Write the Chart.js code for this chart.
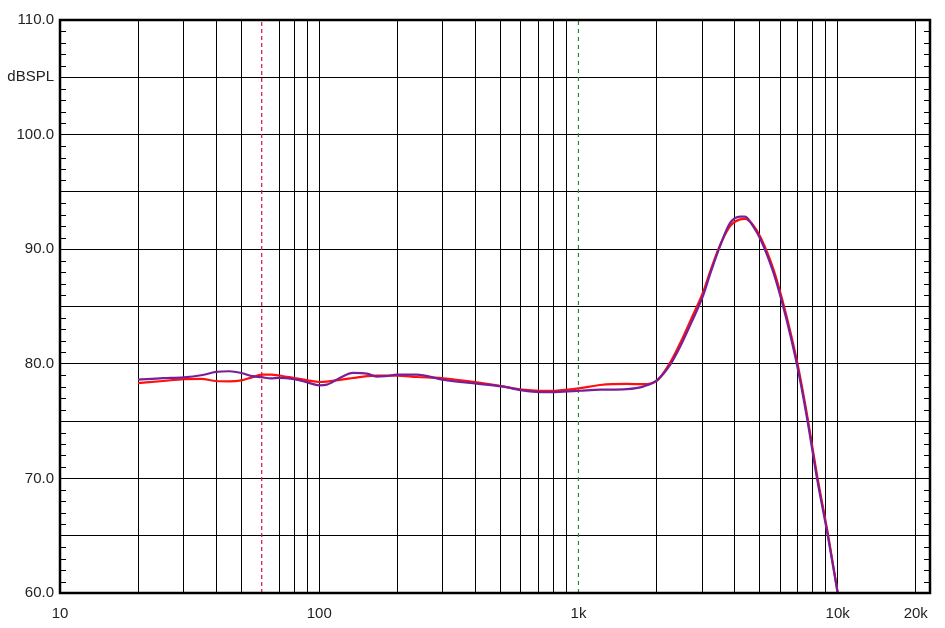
<!DOCTYPE html>
<html>
<head>
<meta charset="utf-8">
<script src="https://cdn.jsdelivr.net/npm/chart.js@4"></script>
<style>
html,body{margin:0;padding:0;background:#fff;}
#wrap{width:945px;height:628px;position:relative;}
</style>
</head>
<body>
<div id="wrap"><canvas id="c"></canvas></div>
<script>
// ---- data ----
const freqs = [20, 25, 30, 35, 40, 45, 50, 55, 60, 65, 70, 80, 90, 100, 107, 120, 135, 153, 166, 180, 200, 237, 300, 405, 508, 607, 709, 813, 911, 1017, 1214, 1536, 1785, 2015, 2270, 2480, 2720, 3020, 3250, 3510, 3840, 4200, 4390, 4720, 5050, 5660, 6110, 6580, 7070, 7650, 8320, 9160, 10000];
const purpleSPL = [78.62, 78.75, 78.82, 79.0, 79.29, 79.35, 79.2, 78.92, 78.83, 78.72, 78.78, 78.66, 78.38, 78.12, 78.18, 78.76, 79.2, 79.15, 78.88, 78.92, 79.05, 79.06, 78.62, 78.27, 78.03, 77.68, 77.53, 77.53, 77.59, 77.65, 77.74, 77.79, 78.03, 78.6, 80.0, 81.6, 83.55, 85.9, 88.1, 90.23, 92.27, 92.85, 92.85, 91.98, 90.8, 87.9, 85.3, 82.4, 79.2, 75.0, 70.0, 65.0, 60.0];
const redSPL = [78.32, 78.5, 78.66, 78.68, 78.5, 78.47, 78.55, 78.82, 79.05, 79.05, 78.98, 78.76, 78.56, 78.41, 78.45, 78.6, 78.76, 78.93, 78.97, 78.97, 78.97, 78.85, 78.74, 78.38, 78.03, 77.74, 77.65, 77.65, 77.74, 77.88, 78.15, 78.24, 78.22, 78.56, 80.2, 81.9, 83.9, 86.2, 88.3, 90.3, 92.0, 92.6, 92.65, 92.1, 91.0, 88.2, 85.6, 82.7, 79.5, 75.3, 70.3, 65.2, 60.0];
const xGridTicks = [10,20,30,40,50,60,70,80,90,100,200,300,400,500,600,700,800,900,1000,2000,3000,4000,5000,6000,7000,8000,9000,10000,20000];
const xTickLabels = {10:'10', 100:'100', 1000:'1k', 10000:'10k', 20000:'20k'};
const dashedMarkers = [60, 1000];
const yMin = 60, yMax = 110, xMin = 10, xMax = 22700;

const toXY = (xs, ys) => xs.map((x, i) => ({x: x, y: ys[i]}));

const frame = {
  id: 'frame',
  afterDraw(chart) {
    const {ctx, chartArea: a, scales} = chart;
    ctx.save();
    ctx.strokeStyle = '#000';
    // minor ticks every 1 dB, inside left & right borders
    ctx.lineWidth = 1;
    for (let v = yMin + 1; v < yMax; v++) {
      if (v % 5 === 0) continue;
      const py = Math.round(scales.y.getPixelForValue(v)) + 0.5;
      ctx.beginPath();
      ctx.moveTo(a.left, py); ctx.lineTo(a.left + 6, py);
      ctx.moveTo(a.right, py); ctx.lineTo(a.right - 6, py);
      ctx.stroke();
    }
    ctx.lineWidth = 2.5;
    ctx.strokeRect(a.left, a.top, a.right - a.left, a.bottom - a.top);
    ctx.restore();
  }
};

new Chart(document.getElementById('c'), {
  type: 'scatter',
  data: {
    datasets: [
      {data: toXY(freqs, purpleSPL), showLine: true, borderColor: '#7a1e98', borderWidth: 2.2, pointRadius: 0, cubicInterpolationMode: 'monotone', order: 1},
      {data: toXY(freqs, redSPL), showLine: true, borderColor: '#ff1010', borderWidth: 2.2, pointRadius: 0, cubicInterpolationMode: 'monotone', order: 2},
      {data: [{x: dashedMarkers[0], y: yMin}, {x: dashedMarkers[0], y: yMax}], showLine: true, borderColor: '#d8104a', borderWidth: 1.2, borderDash: [4, 3], pointRadius: 0, order: 3},
      {data: [{x: dashedMarkers[1], y: yMin}, {x: dashedMarkers[1], y: yMax}], showLine: true, borderColor: '#2a8a2a', borderWidth: 1.2, borderDash: [4, 4], pointRadius: 0, order: 4}
    ]
  },
  options: {
    responsive: true,
    maintainAspectRatio: false,
    animation: false,
    events: [],
    layout: {padding: {top: 20, right: 15, left: 0, bottom: 0}},
    plugins: {legend: {display: false}, tooltip: {enabled: false}},
    scales: {
      x: {
        type: 'logarithmic',
        min: xMin, max: xMax,
        afterBuildTicks(s) { s.ticks = xGridTicks.map(v => ({value: v})); },
        afterFit(s) { s.height = 35; },
        ticks: {
          autoSkip: false, maxRotation: 0, minRotation: 0, padding: 12,
          color: '#222', font: {family: 'Liberation Sans, Arial, sans-serif', size: 15},
          callback: (v) => xTickLabels[v] || ''
        },
        grid: {
          color: (c) => (c.tick && dashedMarkers.includes(c.tick.value)) ? 'rgba(0,0,0,0)' : '#000',
          lineWidth: 1, drawTicks: false
        },
        border: {display: false}
      },
      y: {
        min: yMin, max: yMax,
        afterFit(s) { s.width = 60; },
        ticks: {
          stepSize: 5, padding: 6, color: '#222',
          font: {family: 'Liberation Sans, Arial, sans-serif', size: 15},
          callback: (v) => (v % 10 === 0 ? v.toFixed(1) : (v === 105 ? 'dBSPL' : ''))
        },
        grid: {color: '#000', lineWidth: 1, drawTicks: false},
        border: {display: false}
      }
    }
  },
  plugins: [frame]
});
</script>
</body>
</html>
